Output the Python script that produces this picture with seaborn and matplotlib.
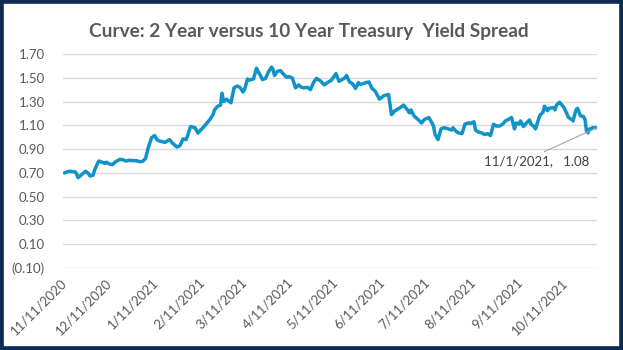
import matplotlib
matplotlib.use("Agg")
import matplotlib.pyplot as plt
import matplotlib.transforms as mtransforms
from matplotlib.ticker import FuncFormatter, FixedLocator
from matplotlib.patches import Rectangle
import seaborn as sns
import pandas as pd

dates = [
    "2020-11-11", "2020-11-14", "2020-11-18", "2020-11-19", "2020-11-20", "2020-11-22",
    "2020-11-25", "2020-11-27", "2020-11-28", "2020-11-30", "2020-12-01", "2020-12-03",
    "2020-12-04", "2020-12-05", "2020-12-08", "2020-12-09", "2020-12-11", "2020-12-13",
    "2020-12-15", "2020-12-18", "2020-12-20", "2020-12-22", "2020-12-24", "2020-12-27",
    "2020-12-29", "2020-12-31", "2021-01-02", "2021-01-04", "2021-01-06", "2021-01-08",
    "2021-01-10", "2021-01-12", "2021-01-14", "2021-01-17", "2021-01-20", "2021-01-22",
    "2021-01-25", "2021-01-27", "2021-01-29", "2021-01-31", "2021-02-01", "2021-02-03",
    "2021-02-06", "2021-02-08", "2021-02-12", "2021-02-16", "2021-02-18", "2021-02-19",
    "2021-02-21", "2021-02-23", "2021-02-24", "2021-02-25", "2021-02-27", "2021-03-01",
    "2021-03-02", "2021-03-04", "2021-03-06", "2021-03-08", "2021-03-10", "2021-03-11",
    "2021-03-13", "2021-03-14", "2021-03-17", "2021-03-19", "2021-03-20", "2021-03-22",
    "2021-03-23", "2021-03-25", "2021-03-27", "2021-03-29", "2021-03-30", "2021-03-31",
    "2021-04-02", "2021-04-04", "2021-04-06", "2021-04-08", "2021-04-10", "2021-04-12",
    "2021-04-14", "2021-04-16", "2021-04-18", "2021-04-20", "2021-04-22", "2021-04-24",
    "2021-04-26", "2021-04-28", "2021-05-01", "2021-05-03", "2021-05-06", "2021-05-08",
    "2021-05-11", "2021-05-13", "2021-05-15", "2021-05-17", "2021-05-18", "2021-05-20",
    "2021-05-22", "2021-05-24", "2021-05-26", "2021-05-27", "2021-05-29", "2021-05-31",
    "2021-06-02", "2021-06-04", "2021-06-06", "2021-06-09", "2021-06-10", "2021-06-12",
    "2021-06-15", "2021-06-17", "2021-06-19", "2021-06-21", "2021-06-23", "2021-06-25",
    "2021-06-27", "2021-06-29", "2021-06-30", "2021-07-02", "2021-07-05", "2021-07-07",
    "2021-07-09", "2021-07-12", "2021-07-15", "2021-07-16", "2021-07-18", "2021-07-20",
    "2021-07-22", "2021-07-25", "2021-07-27", "2021-07-28", "2021-07-30", "2021-08-01",
    "2021-08-03", "2021-08-05", "2021-08-07", "2021-08-09", "2021-08-11", "2021-08-12",
    "2021-08-14", "2021-08-16", "2021-08-18", "2021-08-20", "2021-08-22", "2021-08-24",
    "2021-08-26", "2021-08-28", "2021-08-30", "2021-09-01", "2021-09-04", "2021-09-05",
    "2021-09-07", "2021-09-08", "2021-09-10", "2021-09-11", "2021-09-13", "2021-09-15",
    "2021-09-17", "2021-09-18", "2021-09-20", "2021-09-21", "2021-09-23", "2021-09-24",
    "2021-09-26", "2021-09-27", "2021-09-29", "2021-09-30", "2021-10-03", "2021-10-04",
    "2021-10-05", "2021-10-07", "2021-10-08", "2021-10-10", "2021-10-11", "2021-10-13",
    "2021-10-15", "2021-10-16", "2021-10-18", "2021-10-19", "2021-10-21", "2021-10-23",
    "2021-10-24", "2021-10-25", "2021-10-26", "2021-10-27", "2021-10-28", "2021-10-29",
    "2021-11-01",
]

spread = [
    0.70, 0.714, 0.71, 0.694, 0.66, 0.68,
    0.714, 0.694, 0.674, 0.68, 0.72, 0.78,
    0.80, 0.795, 0.78, 0.79, 0.774, 0.77,
    0.794, 0.814, 0.81, 0.80, 0.806, 0.803,
    0.803, 0.794, 0.797, 0.82, 0.92, 0.994,
    1.014, 0.974, 0.966, 0.957, 0.98, 0.95,
    0.917, 0.93, 0.986, 0.98, 1.01, 1.09,
    1.08, 1.035, 1.09, 1.15, 1.19, 1.23,
    1.26, 1.27, 1.37, 1.30, 1.32, 1.30,
    1.29, 1.415, 1.43, 1.42, 1.38, 1.40,
    1.49, 1.48, 1.49, 1.58, 1.555, 1.51,
    1.485, 1.495, 1.55, 1.59, 1.57, 1.52,
    1.555, 1.56, 1.53, 1.505, 1.51, 1.495,
    1.415, 1.44, 1.42, 1.415, 1.42, 1.40,
    1.46, 1.495, 1.47, 1.44, 1.465, 1.48,
    1.535, 1.47, 1.485, 1.50, 1.52, 1.465,
    1.45, 1.41, 1.46, 1.445, 1.45, 1.46,
    1.465, 1.41, 1.39, 1.32, 1.33, 1.35,
    1.36, 1.19, 1.22, 1.235, 1.25, 1.27,
    1.24, 1.205, 1.23, 1.18, 1.145, 1.12,
    1.15, 1.165, 1.095, 1.025, 0.98, 1.07,
    1.08, 1.07, 1.06, 1.08, 1.05, 1.035,
    1.03, 1.11, 1.12, 1.117, 1.13, 1.06,
    1.043, 1.037, 1.023, 1.03, 1.014, 1.109,
    1.094, 1.094, 1.109, 1.137, 1.157, 1.166,
    1.07, 1.12, 1.11, 1.137, 1.09, 1.12,
    1.146, 1.11, 1.09, 1.07, 1.15, 1.186,
    1.21, 1.26, 1.223, 1.243, 1.25, 1.23,
    1.27, 1.294, 1.28, 1.25, 1.223, 1.166,
    1.15, 1.137, 1.23, 1.243, 1.18, 1.174,
    1.15, 1.05, 1.037, 1.07, 1.066, 1.08,
    1.08,
]

x_tick_dates = ["2020-11-11", "2020-12-11", "2021-01-11", "2021-02-11", "2021-03-11",
                "2021-04-11", "2021-05-11", "2021-06-11", "2021-07-11", "2021-08-11",
                "2021-09-11", "2021-10-11"]
y_ticks = [-0.10, 0.10, 0.30, 0.50, 0.70, 0.90, 1.10, 1.30, 1.50, 1.70]

title = "Curve: 2 Year versus 10 Year Treasury  Yield Spread"
annot_label = "11/1/2021,   1.08"

sns.set_theme(style="white")
plt.rcParams["font.family"] = ["Lato", "DejaVu Sans"]

df = pd.DataFrame({"date": pd.to_datetime(dates), "spread": spread})

fig = plt.figure(figsize=(6.23, 3.5), dpi=100)
fig.patch.set_facecolor("white")
ax = fig.add_axes([63 / 623, 1 - 268 / 350, (597 - 63) / 623, (268 - 54) / 350])

sns.lineplot(data=df, x="date", y="spread", ax=ax, color="#0f93c8", linewidth=2.5)

ax.set_xlim(pd.Timestamp("2020-11-10"), pd.Timestamp("2021-11-01"))
ax.set_ylim(-0.10, 1.70)
ax.yaxis.set_major_locator(FixedLocator(y_ticks))
ax.yaxis.set_major_formatter(FuncFormatter(
    lambda v, p: f"({abs(v):.2f})" if v < -1e-9 else f"{v:.2f}"))
tick_ts = pd.to_datetime(x_tick_dates)
ax.set_xticks(tick_ts)
ax.set_xticklabels([f"{t.month}/{t.day}/{t.year}" for t in tick_ts])
shift = mtransforms.ScaledTranslation(4 / 100, 0 / 100, fig.dpi_scale_trans)
for lab in ax.get_xticklabels():
    lab.set_rotation(45)
    lab.set_rotation_mode("anchor")
    lab.set_ha("right")
    lab.set_va("center")
    lab.set_transform(lab.get_transform() + shift)

ax.grid(axis="y", color="#d9d9d9", linewidth=1.0)
ax.grid(axis="x", visible=False)
for s in ax.spines.values():
    s.set_visible(False)
ax.tick_params(axis="both", length=0, colors="#595959", labelsize=9.5)
ax.tick_params(axis="y", pad=13)
ax.tick_params(axis="x", pad=9)
ax.set_xlabel("")
ax.set_ylabel("")

# annotation for last point
last_d = df["date"].iloc[-1]
last_v = df["spread"].iloc[-1]
ax.annotate(annot_label, xy=(last_d, last_v), xycoords="data",
            xytext=(537 / 623, 1 - 161 / 350), textcoords="figure fraction",
            ha="center", va="center", fontsize=9.5, color="#404040",
            arrowprops=dict(arrowstyle="-", color="#a6a6a6", lw=0.8,
                            shrinkA=0, shrinkB=0, relpos=(0.5, 1.0)))

fig.text(309 / 623, 1 - 32 / 350, title, ha="center", va="center",
         fontsize=13.7, fontweight="bold", color="#595959")

fig.add_artist(Rectangle((0, 0), 1, 1, transform=fig.transFigure, fill=False,
                         edgecolor="#0d2b54", linewidth=5.5, clip_on=False))

fig.savefig("out.png", dpi=100, facecolor="white")
